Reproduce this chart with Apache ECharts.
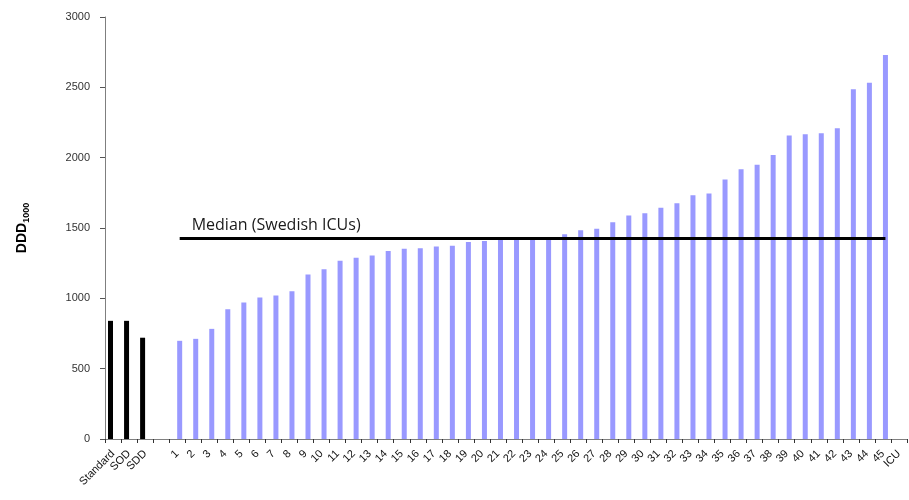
<!DOCTYPE html>
<html>
<head>
<meta charset="utf-8">
<script src="https://cdn.jsdelivr.net/npm/echarts@6/dist/echarts.min.js"></script>
<style>
  html, body { margin: 0; padding: 0; background: #fff; }
  #chart { width: 909px; height: 500px; }
</style>
</head>
<body>
<div id="chart"></div>
<script>
// Category labels along the x axis: reference regimens, a spacer, ICUs 1-45, and the ICU tail label
const categories = ['Standard', 'SOD', 'SDD', '',
  '1', '2', '3', '4', '5', '6', '7', '8', '9', '10',
  '11', '12', '13', '14', '15', '16', '17', '18', '19', '20',
  '21', '22', '23', '24', '25', '26', '27', '28', '29', '30',
  '31', '32', '33', '34', '35', '36', '37', '38', '39', '40',
  '41', '42', '43', '44', '45', 'ICU'];

// Reference regimens (Standard, SOD, SDD), DDD per 1000 patient-days
const regimenValues = [840, 840, 720];

// Swedish ICUs 1-45, sorted ascending
const icuValues = [698, 712, 783, 922, 970, 1006, 1020, 1050, 1170, 1206,
  1268, 1288, 1304, 1337, 1352, 1356, 1368, 1373, 1400, 1408,
  1420, 1425, 1428, 1432, 1456, 1484, 1494, 1541, 1589, 1605,
  1644, 1676, 1732, 1746, 1844, 1918, 1950, 2019, 2157, 2166,
  2173, 2209, 2487, 2532, 2729];

const medianValue = 1430;
const yTicks = { min: 0, max: 3000, interval: 500 };

// Spread each group onto its own slots of the shared category axis
const regimenSeries = categories.map((c, i) => i < regimenValues.length ? regimenValues[i] : null);
const icuStart = categories.indexOf('1');
const icuSeries = categories.map((c, i) => {
  const k = i - icuStart;
  return k >= 0 && k < icuValues.length ? icuValues[k] : null;
});

const chart = echarts.init(document.getElementById('chart'));
chart.setOption({
  animation: false,
  textStyle: { fontFamily: 'Liberation Sans, Arial, sans-serif' },
  grid: { left: 105, right: 2, top: 17, bottom: 61 },
  xAxis: {
    type: 'category',
    data: categories,
    axisLine: { lineStyle: { color: '#7f7f7f', width: 1 } },
    axisTick: { show: true, interval: 0, length: 4, lineStyle: { color: '#333' } },
    axisLabel: { interval: 0, rotate: 45, fontSize: 11, color: '#111', margin: 13 }
  },
  yAxis: {
    type: 'value',
    min: yTicks.min, max: yTicks.max, interval: yTicks.interval,
    name: '{a|DDD}{b|1000}',
    nameLocation: 'middle',
    nameGap: 74,
    nameTextStyle: {
      rich: {
        a: { fontSize: 14, fontWeight: 'bold', color: '#000', fontFamily: 'Liberation Sans, Arial, sans-serif' },
        b: { fontSize: 9, fontWeight: 'bold', color: '#000', padding: [8, 0, 0, 0], fontFamily: 'Liberation Sans, Arial, sans-serif' }
      }
    },
    splitLine: { show: false },
    axisLine: { show: true, lineStyle: { color: '#7f7f7f', width: 1 } },
    axisTick: { show: true, length: 5, lineStyle: { color: '#555' } },
    axisLabel: { fontSize: 11, color: '#333', margin: 15, formatter: v => String(v) }
  },
  series: [
    {
      name: 'Regimens',
      type: 'bar',
      data: regimenSeries,
      barWidth: 5,
      barGap: '0%',
      itemStyle: { color: '#000000' }
    },
    {
      name: 'Swedish ICUs',
      type: 'bar',
      data: icuSeries,
      barWidth: 5,
      barGap: '0%',
      itemStyle: { color: '#9999ff' },
      markLine: {
        silent: true,
        symbol: ['none', 'none'],
        lineStyle: { color: '#000', width: 3, type: 'solid' },
        label: {
          show: true,
          position: 'insideStartTop',
          formatter: 'Median (Swedish ICUs)',
          fontFamily: 'Open Sans, sans-serif',
          fontSize: 16,
          color: '#1a1a1a',
          distance: [12, 4]
        },
        data: [[
          { coord: ['1', medianValue] },
          { coord: ['45', medianValue] }
        ]]
      }
    }
  ]
});
</script>
</body>
</html>
